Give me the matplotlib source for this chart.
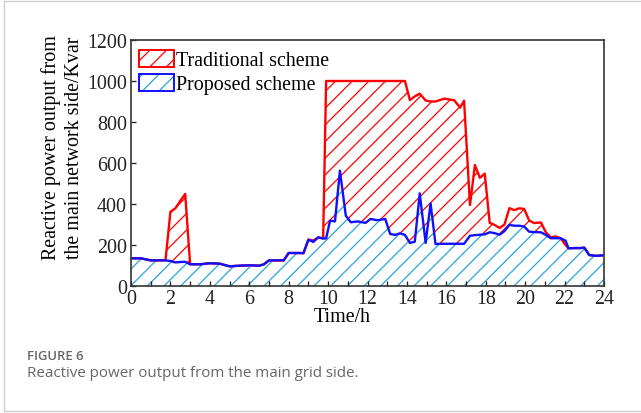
import numpy as np
import matplotlib
matplotlib.use('Agg')
import matplotlib.pyplot as plt
from matplotlib.patches import Patch
from matplotlib.legend_handler import HandlerTuple
from matplotlib.lines import Line2D

plt.rcParams['font.family'] = 'Liberation Serif'
plt.rcParams['hatch.linewidth'] = 0.9

#Time points (h)
hours = [0, 0.5, 1.0, 1.5, 1.75, 2.0, 2.25, 2.5, 2.75, 3.0, 3.5, 4.0, 4.5, 5.0, 5.5,
         6.0, 6.5, 6.75, 7.0, 7.5, 7.75, 8.0, 8.5, 8.75, 9.0, 9.25, 9.5, 9.75, 9.9,
         10.1, 10.35, 10.6, 10.9, 11.15, 11.5, 11.9, 12.15, 12.5, 12.9, 13.15, 13.4,
         13.65, 13.9, 14.15, 14.4, 14.65, 14.95, 15.2, 15.45, 15.9, 16.4, 16.7, 16.9,
         17.2, 17.45, 17.7, 17.95, 18.2, 18.45, 18.7, 18.95, 19.2, 19.45, 19.7, 19.95,
         20.2, 20.45, 20.8, 21.05, 21.3, 21.55, 21.8, 22.05, 22.2, 22.5, 22.8, 23.0,
         23.25, 23.6, 24.0]

#Proposed scheme (Kvar)
proposed = [135, 135, 125, 125, 125, 122, 115, 117, 118, 106, 106, 111, 109, 96, 99,
            101, 99, 106, 125, 125, 125, 161, 161, 160, 226, 215, 237, 232, 232,
            319, 315, 563, 343, 311, 315, 308, 327, 321, 327, 254, 249,
            257, 249, 210, 216, 452, 210, 403, 205, 206, 206, 206, 206,
            245, 248, 250, 252, 262, 258, 250, 268, 298, 294, 294, 290,
            265, 263, 262, 249, 233, 233, 233, 221, 184, 185, 185, 187,
            151, 147, 150]

#Traditional scheme (Kvar)
traditional = [135, 135, 125, 125, 125, 362, 379, 415, 449, 106, 106, 111, 109, 96, 99,
               101, 99, 106, 125, 125, 125, 161, 161, 160, 226, 222, 237, 232, 1000,
               1000, 1000, 1000, 1000, 1000, 1000, 1000, 1000, 1000, 1000, 1000, 1000,
               1000, 1000, 907, 925, 938, 905, 900, 900, 914, 906, 870, 904,
               395, 590, 528, 548, 308, 298, 283, 300, 380, 370, 379, 376,
               320, 307, 310, 262, 237, 242, 233, 200, 184, 185, 185, 187,
               151, 147, 150]

fig = plt.figure(figsize=(6.41, 4.14), dpi=100)
ax = fig.add_axes([131/641, 1 - 287/414, 473/641, 246/414])

red = '#ff0000'
blue = '#1010ff'
light_blue = '#2aa3dc'

ax.fill_between(hours, 0, traditional, facecolor='white', edgecolor=red, hatch='//', linewidth=0)
ax.fill_between(hours, 0, proposed, facecolor='white', edgecolor=light_blue, hatch='//', linewidth=0)
ax.plot(hours, traditional, color=red, lw=1.7)
ax.plot(hours, proposed, color=blue, lw=1.7)

ax.set_xlim(0, 24)
ax.set_ylim(0, 1200)
ax.set_xticks(np.arange(0, 25, 1))
ax.set_xticklabels([str(h) if h % 2 == 0 else '' for h in range(25)])
ax.set_yticks(np.arange(0, 1201, 200))
ax.tick_params(direction='in', length=3.6, width=0.96, labelsize=14.4, pad=2.4, colors='#222222')
ax.tick_params(axis='y', pad=3)
for s in ax.spines.values():
    s.set_color('#333333')
    s.set_linewidth(1.2)

ax.set_xlabel('Time/h', fontsize=14.4)
ax.xaxis.set_label_coords(0.446, -0.085)
ax.set_ylabel('Reactive power output from\nthe main network side/Kvar', fontsize=14.4, linespacing=1.25)
ax.yaxis.set_label_coords(-0.1, 0.565)

#Legend
h_trad = Patch(facecolor='white', edgecolor=red, hatch='//', linewidth=1.4)
h_prop = (Patch(facecolor='white', edgecolor=light_blue, hatch='//', linewidth=0),
          Patch(facecolor='none', edgecolor=blue, linewidth=1.4))
ax.legend([h_trad, h_prop], ['Traditional scheme', 'Proposed scheme'],
          handler_map={tuple: HandlerTuple(ndivide=1, pad=0)},
          loc='upper left', bbox_to_anchor=(-0.005, 1.0), frameon=False, fontsize=14.4,
          handlelength=1.75, handleheight=0.95, handletextpad=0.1, labelspacing=0.15,
          borderaxespad=0.3, borderpad=0.2)

#Caption
fig.text(27/641, 1 - 357/414, 'FIGURE 6', family='Open Sans', fontsize=9.4, fontweight='semibold',
         color='#666666', va='center')
fig.text(27/641, 1 - 374/414, 'Reactive power output from the main grid side.', family='Open Sans',
         fontsize=10.9, color='#666666', va='center')

#Outer frame
for xs, ys in [([4/641, 4/641], [2/414, 412/414]), ([4/641, 1], [1 - 2/414, 1 - 2/414]),
               ([4/641, 1], [2/414, 2/414])]:
    fig.add_artist(Line2D(xs, ys, color='#cfcfcf', lw=0.96, transform=fig.transFigure))

fig.savefig('out.png', dpi=100)
